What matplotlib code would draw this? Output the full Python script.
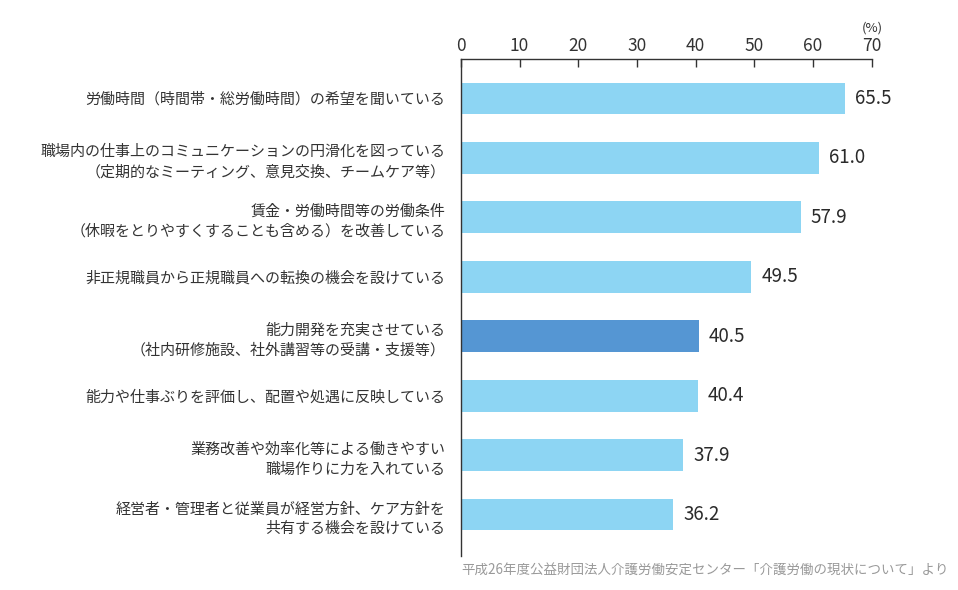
import numpy as np
import matplotlib.pyplot as plt

plt.rcParams['font.family'] = ['Noto Sans CJK JP', 'DejaVu Sans']

# data
labels = [
    "労働時間（時間帯・総労働時間）の希望を聞いている",
    "職場内の仕事上のコミュニケーションの円滑化を図っている\n（定期的なミーティング、意見交換、チームケア等）",
    "賃金・労働時間等の労働条件\n（休暇をとりやすくすることも含める）を改善している",
    "非正規職員から正規職員への転換の機会を設けている",
    "能力開発を充実させている\n（社内研修施設、社外講習等の受講・支援等）",
    "能力や仕事ぶりを評価し、配置や処遇に反映している",
    "業務改善や効率化等による働きやすい\n職場作りに力を入れている",
    "経営者・管理者と従業員が経営方針、ケア方針を\n共有する機会を設けている",
]
values = [65.5, 61.0, 57.9, 49.5, 40.5, 40.4, 37.9, 36.2]
highlight = 4
xticks = [0, 10, 20, 30, 40, 50, 60, 70]

text_color = "#333333"
colors = ["#5596d3" if i == highlight else "#8dd5f3" for i in range(len(values))]

fig = plt.figure(figsize=(9.58, 5.9), dpi=100)
ax = fig.add_axes([0.481, 0.058, 0.429, 0.842])

y = np.arange(len(values))
ax.barh(y, values, height=0.53, color=colors)

ax.set_xlim(0, 70)
ax.set_ylim(7.69, -0.66)
ax.xaxis.tick_top()
ax.set_xticks(xticks)
ax.tick_params(axis='x', direction='in', length=6, width=1, color=text_color,
               labelsize=12.5, labelcolor=text_color, pad=3)
ax.set_yticks(y)
ax.set_yticklabels(labels, fontsize=10.8, color=text_color, linespacing=1.5)
ax.tick_params(axis='y', length=0, pad=11)

for s in ['right', 'bottom']:
    ax.spines[s].set_visible(False)
for s in ['top', 'left']:
    ax.spines[s].set_color(text_color)
    ax.spines[s].set_linewidth(1)

for yi, v in zip(y, values):
    ax.text(v + 1.7, yi, f"{v:.1f}", va='center', ha='left', fontsize=13.5,
            color="#2a2a2a")

fig.text(0.911, 0.953, "(%)", ha='center', va='center', fontsize=9.5, color=text_color)
fig.text(0.99, 0.02, "平成26年度公益財団法人介護労働安定センター「介護労働の現状について」より",
         ha='right', va='bottom', fontsize=9.7, color="#999999")

fig.savefig("out.png", dpi=100)
